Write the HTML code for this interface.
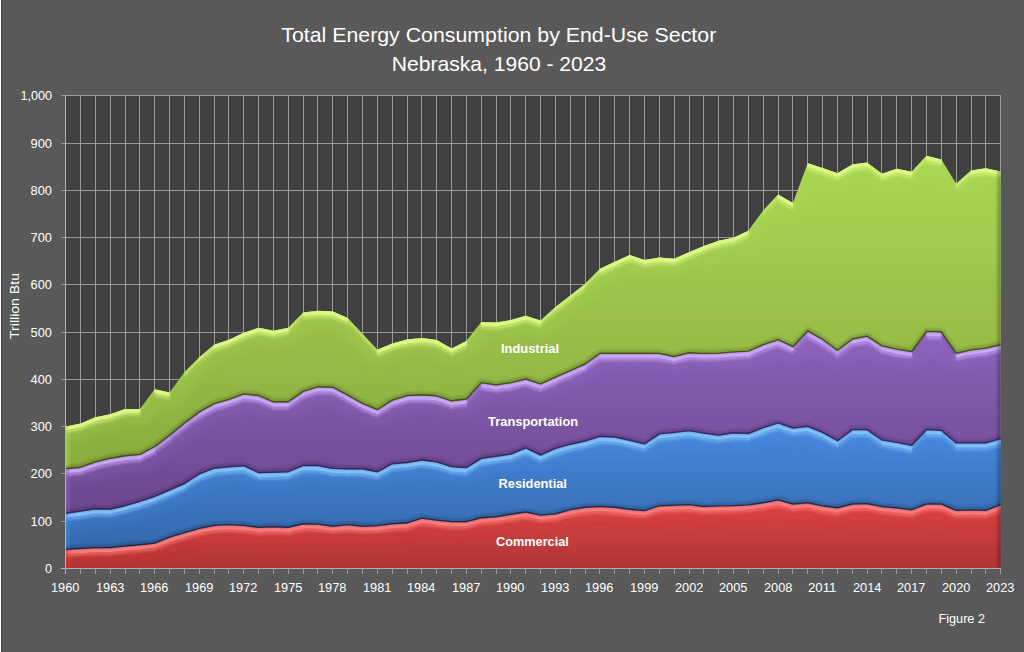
<!DOCTYPE html>
<html><head><meta charset="utf-8"><title>Total Energy Consumption by End-Use Sector</title>
<style>html,body{margin:0;padding:0;background:#595959;}body{width:1024px;height:652px;overflow:hidden;position:relative;font-family:"Liberation Sans",sans-serif;}svg{display:block;position:absolute;left:0;top:0;}text{font-family:"Liberation Sans",sans-serif;fill:#fff;}</style>
</head><body>
<svg width="1024" height="652" viewBox="0 0 1024 652">
<defs>
<linearGradient id="g_green" gradientUnits="userSpaceOnUse" x1="0" y1="155.8" x2="0" y2="469.3"><stop offset="0" stop-color="#abd653"/><stop offset="1" stop-color="#8aac3f"/></linearGradient>
<clipPath id="c_green"><polygon points="65.7,426.5 80.54,423.5 95.38,417.2 110.22,414.3 125.06,409.1 139.91,409.1 154.75,389.2 169.59,392.5 184.43,372.2 199.27,357.3 214.11,344.8 228.95,339.7 243.79,332.8 258.63,327.8 273.47,330.7 288.31,327.8 303.16,312.5 318,310.7 332.84,311.6 347.68,317.9 362.52,333.7 377.36,349.7 392.2,343.4 407.04,339.6 421.88,338 436.72,340 451.57,348.4 466.41,340.9 481.25,322 496.09,322.4 510.93,320.1 525.77,315.7 540.61,320.5 555.45,306.9 570.29,295.5 585.13,283.8 599.98,268.8 614.82,261.8 629.66,254.9 644.5,259.9 659.34,257.6 674.18,258.7 689.02,252.2 703.86,246.1 718.7,240.8 733.54,237.7 748.39,230.8 763.23,210.6 778.07,194.5 792.91,202.9 807.75,163.3 822.59,167.9 837.43,173.3 852.27,164.5 867.11,162.4 881.96,173.7 896.8,168.7 911.64,171.7 926.48,155.8 941.32,159.5 956.16,183.8 971,170.5 985.84,168.3 1000.68,171.5 1000.68,568.5 65.7,568.5"/></clipPath>
<linearGradient id="g_purple" gradientUnits="userSpaceOnUse" x1="0" y1="331.4" x2="0" y2="513.8"><stop offset="0" stop-color="#8b62ba"/><stop offset="1" stop-color="#6a468c"/></linearGradient>
<clipPath id="c_purple"><polygon points="65.7,469.3 80.54,467.8 95.38,462.5 110.22,458.8 125.06,456.3 139.91,455 154.75,447.1 169.59,435.8 184.43,423.6 199.27,412.5 214.11,404.2 228.95,399.9 243.79,394.5 258.63,396.1 273.47,402.4 288.31,402.4 303.16,392 318,387.3 332.84,387.8 347.68,395.7 362.52,403.9 377.36,410.2 392.2,400.8 407.04,396.1 421.88,395.4 436.72,396.4 451.57,401.4 466.41,399.6 481.25,383.2 496.09,385.5 510.93,383.2 525.77,379.6 540.61,384.5 555.45,377.7 570.29,371.3 585.13,364.6 599.98,353.9 614.82,353.9 629.66,353.9 644.5,353.9 659.34,354 674.18,357.1 689.02,353.3 703.86,354 718.7,353.7 733.54,352.5 748.39,351.7 763.23,345.2 778.07,340.3 792.91,347.1 807.75,331.4 822.59,339.9 837.43,350.9 852.27,339.6 867.11,336.7 881.96,346.5 896.8,349.7 911.64,352.1 926.48,332 941.32,332.4 956.16,353.8 971,350.5 985.84,348.7 1000.68,345.2 1000.68,568.5 65.7,568.5"/></clipPath>
<linearGradient id="g_blue" gradientUnits="userSpaceOnUse" x1="0" y1="423.5" x2="0" y2="549.9"><stop offset="0" stop-color="#4688dc"/><stop offset="1" stop-color="#3468ac"/></linearGradient>
<clipPath id="c_blue"><polygon points="65.7,513.8 80.54,511.7 95.38,509.4 110.22,509.7 125.06,506.3 139.91,501.9 154.75,496.9 169.59,490.6 184.43,484.1 199.27,474.5 214.11,468.8 228.95,467.3 243.79,466.3 258.63,473.2 273.47,472.8 288.31,472.3 303.16,466 318,466.1 332.84,469 347.68,469.4 362.52,469.4 377.36,472.4 392.2,464.3 407.04,463.1 421.88,460.6 436.72,462.5 451.57,467.2 466.41,468.2 481.25,459 496.09,456.8 510.93,454.6 525.77,448.4 540.61,455.6 555.45,449 570.29,444.8 585.13,441.6 599.98,437 614.82,437.6 629.66,440.8 644.5,444.5 659.34,434.5 674.18,433 689.02,431.2 703.86,433.7 718.7,435.7 733.54,433.4 748.39,434.1 763.23,428.2 778.07,423.5 792.91,428.6 807.75,427 822.59,432.9 837.43,441.3 852.27,430.2 867.11,430.2 881.96,440.5 896.8,443 911.64,445.9 926.48,430.2 941.32,430.8 956.16,443.4 971,443.4 985.84,443.4 1000.68,439.2 1000.68,568.5 65.7,568.5"/></clipPath>
<linearGradient id="g_red" gradientUnits="userSpaceOnUse" x1="0" y1="500.5" x2="0" y2="568.5"><stop offset="0" stop-color="#dc4646"/><stop offset="1" stop-color="#b03434"/></linearGradient>
<clipPath id="c_red"><polygon points="65.7,549.9 80.54,549.1 95.38,548.2 110.22,548.2 125.06,546.6 139.91,545.3 154.75,543.7 169.59,537.7 184.43,533.2 199.27,528.9 214.11,526 228.95,525.2 243.79,526 258.63,527.9 273.47,527.3 288.31,527.9 303.16,524.4 318,524.7 332.84,526.8 347.68,525.2 362.52,526.8 377.36,526.2 392.2,524.3 407.04,523.4 421.88,518.7 436.72,520.7 451.57,522.2 466.41,522.2 481.25,518.3 496.09,517.3 510.93,514.9 525.77,512.6 540.61,515.7 555.45,514.5 570.29,510.2 585.13,507.8 599.98,507 614.82,507.9 629.66,509.9 644.5,511.2 659.34,506.3 674.18,505.8 689.02,505.2 703.86,507.1 718.7,506.5 733.54,506.2 748.39,505.5 763.23,503.3 778.07,500.5 792.91,504.6 807.75,503.3 822.59,506.5 837.43,508.4 852.27,504.6 867.11,504.2 881.96,507.1 896.8,508.5 911.64,510.3 926.48,504.6 941.32,504.6 956.16,510.9 971,510.5 985.84,510.9 1000.68,505.2 1000.68,568.5 65.7,568.5"/></clipPath>
<filter id="blur1" filterUnits="userSpaceOnUse" x="40" y="80" width="990" height="510"><feGaussianBlur stdDeviation="1.0"/></filter>
<filter id="blur3" filterUnits="userSpaceOnUse" x="40" y="80" width="990" height="510"><feGaussianBlur stdDeviation="0.45"/></filter>
<filter id="blur2" filterUnits="userSpaceOnUse" x="40" y="80" width="990" height="510"><feGaussianBlur stdDeviation="5"/></filter>
</defs>
<rect x="0" y="0" width="1024" height="652" fill="#595959"/>
<rect x="0" y="0" width="1" height="652" fill="#ffffff"/>
<rect x="1" y="0" width="1" height="652" fill="#4b4b4b"/>
<rect x="2" y="0" width="1" height="652" fill="#545454"/>
<rect x="65" y="95" width="936" height="474" fill="#404040"/>
<path d="M65.5 95V574M80.5 95V574M95.5 95V574M110.5 95V574M125.5 95V574M139.5 95V574M154.5 95V574M169.5 95V574M184.5 95V574M199.5 95V574M214.5 95V574M228.5 95V574M243.5 95V574M258.5 95V574M273.5 95V574M288.5 95V574M303.5 95V574M317.5 95V574M332.5 95V574M347.5 95V574M362.5 95V574M377.5 95V574M392.5 95V574M407.5 95V574M421.5 95V574M436.5 95V574M451.5 95V574M466.5 95V574M481.5 95V574M496.5 95V574M510.5 95V574M525.5 95V574M540.5 95V574M555.5 95V574M570.5 95V574M585.5 95V574M599.5 95V574M614.5 95V574M629.5 95V574M644.5 95V574M659.5 95V574M674.5 95V574M689.5 95V574M703.5 95V574M718.5 95V574M733.5 95V574M748.5 95V574M763.5 95V574M778.5 95V574M792.5 95V574M807.5 95V574M822.5 95V574M837.5 95V574M852.5 95V574M867.5 95V574M881.5 95V574M896.5 95V574M911.5 95V574M926.5 95V574M941.5 95V574M956.5 95V574M971.5 95V574M985.5 95V574M1000.5 95V574M61 568.5H1001M61 521.5H1001M61 473.5H1001M61 426.5H1001M61 379.5H1001M61 332.5H1001M61 284.5H1001M61 237.5H1001M61 190.5H1001M61 143.5H1001M61 95.5H1001" stroke="#9a9a9a" stroke-width="1" fill="none"/>
<g clip-path="url(#c_green)">
<rect x="64.5" y="95.5" width="938" height="473" fill="url(#g_green)"/>
<polyline points="65.7,426.5 80.54,423.5 95.38,417.2 110.22,414.3 125.06,409.1 139.91,409.1 154.75,389.2 169.59,392.5 184.43,372.2 199.27,357.3 214.11,344.8 228.95,339.7 243.79,332.8 258.63,327.8 273.47,330.7 288.31,327.8 303.16,312.5 318,310.7 332.84,311.6 347.68,317.9 362.52,333.7 377.36,349.7 392.2,343.4 407.04,339.6 421.88,338 436.72,340 451.57,348.4 466.41,340.9 481.25,322 496.09,322.4 510.93,320.1 525.77,315.7 540.61,320.5 555.45,306.9 570.29,295.5 585.13,283.8 599.98,268.8 614.82,261.8 629.66,254.9 644.5,259.9 659.34,257.6 674.18,258.7 689.02,252.2 703.86,246.1 718.7,240.8 733.54,237.7 748.39,230.8 763.23,210.6 778.07,194.5 792.91,202.9 807.75,163.3 822.59,167.9 837.43,173.3 852.27,164.5 867.11,162.4 881.96,173.7 896.8,168.7 911.64,171.7 926.48,155.8 941.32,159.5 956.16,183.8 971,170.5 985.84,168.3 1000.68,171.5" fill="none" stroke="#b4e052" stroke-width="30" stroke-linejoin="round" stroke-opacity="0.18" filter="url(#blur2)"/>
<g fill="#dcfa84" filter="url(#blur1)"><path d="M65.4 425.5L80.84 422.5L80.84 430.5L65.4 433.5Z" fill-opacity="0.50"/><path d="M80.24 422.5L95.68 416.2L95.68 424.2L80.24 430.5Z" fill-opacity="0.50"/><path d="M95.08 416.2L110.52 413.3L110.52 421.3L95.08 424.2Z" fill-opacity="0.50"/><path d="M109.92 413.3L125.36 408.1L125.36 416.1L109.92 421.3Z" fill-opacity="0.50"/><path d="M124.76 408.1L140.21 408.1L140.21 416.1L124.76 416.1Z" fill-opacity="0.50"/><path d="M139.6 408.1L155.05 388.2L155.05 396.2L139.6 416.1Z" fill-opacity="0.03"/><path d="M154.45 388.2L169.89 391.5L169.89 399.5L154.45 396.2Z" fill-opacity="0.50"/><path d="M169.29 391.5L184.73 371.2L184.73 379.2L169.29 399.5Z" fill-opacity="0.02"/><path d="M184.13 371.2L199.57 356.3L199.57 364.3L184.13 379.2Z" fill-opacity="0.20"/><path d="M198.97 356.3L214.41 343.8L214.41 351.8L198.97 364.3Z" fill-opacity="0.30"/><path d="M213.81 343.8L229.25 338.7L229.25 346.7L213.81 351.8Z" fill-opacity="0.50"/><path d="M228.65 338.7L244.09 331.8L244.09 339.8L228.65 346.7Z" fill-opacity="0.50"/><path d="M243.49 331.8L258.93 326.8L258.93 334.8L243.49 339.8Z" fill-opacity="0.50"/><path d="M258.33 326.8L273.77 329.7L273.77 337.7L258.33 334.8Z" fill-opacity="0.50"/><path d="M273.17 329.7L288.62 326.8L288.62 334.8L273.17 337.7Z" fill-opacity="0.50"/><path d="M288.01 326.8L303.46 311.5L303.46 319.5L288.01 334.8Z" fill-opacity="0.18"/><path d="M302.86 311.5L318.3 309.7L318.3 317.7L302.86 319.5Z" fill-opacity="0.50"/><path d="M317.7 309.7L333.14 310.6L333.14 318.6L317.7 317.7Z" fill-opacity="0.50"/><path d="M332.54 310.6L347.98 316.9L347.98 324.9L332.54 318.6Z" fill-opacity="0.50"/><path d="M347.38 316.9L362.82 332.7L362.82 340.7L347.38 324.9Z" fill-opacity="0.16"/><path d="M362.22 332.7L377.66 348.7L377.66 356.7L362.22 340.7Z" fill-opacity="0.16"/><path d="M377.06 348.7L392.5 342.4L392.5 350.4L377.06 356.7Z" fill-opacity="0.50"/><path d="M391.9 342.4L407.34 338.6L407.34 346.6L391.9 350.4Z" fill-opacity="0.50"/><path d="M406.74 338.6L422.18 337L422.18 345L406.74 346.6Z" fill-opacity="0.50"/><path d="M421.58 337L437.02 339L437.02 347L421.58 345Z" fill-opacity="0.50"/><path d="M436.42 339L451.87 347.4L451.87 355.4L436.42 347Z" fill-opacity="0.50"/><path d="M451.27 347.4L466.71 339.9L466.71 347.9L451.27 355.4Z" fill-opacity="0.50"/><path d="M466.11 339.9L481.55 321L481.55 329L466.11 347.9Z" fill-opacity="0.06"/><path d="M480.95 321L496.39 321.4L496.39 329.4L480.95 329Z" fill-opacity="0.50"/><path d="M495.79 321.4L511.23 319.1L511.23 327.1L495.79 329.4Z" fill-opacity="0.50"/><path d="M510.63 319.1L526.07 314.7L526.07 322.7L510.63 327.1Z" fill-opacity="0.50"/><path d="M525.47 314.7L540.91 319.5L540.91 327.5L525.47 322.7Z" fill-opacity="0.50"/><path d="M540.31 319.5L555.75 305.9L555.75 313.9L540.31 327.5Z" fill-opacity="0.25"/><path d="M555.15 305.9L570.59 294.5L570.59 302.5L555.15 313.9Z" fill-opacity="0.35"/><path d="M569.99 294.5L585.43 282.8L585.43 290.8L569.99 302.5Z" fill-opacity="0.33"/><path d="M584.84 282.8L600.28 267.8L600.28 275.8L584.84 290.8Z" fill-opacity="0.19"/><path d="M599.68 267.8L615.12 260.8L615.12 268.8L599.68 275.8Z" fill-opacity="0.50"/><path d="M614.52 260.8L629.96 253.9L629.96 261.9L614.52 268.8Z" fill-opacity="0.50"/><path d="M629.36 253.9L644.8 258.9L644.8 266.9L629.36 261.9Z" fill-opacity="0.50"/><path d="M644.2 258.9L659.64 256.6L659.64 264.6L644.2 266.9Z" fill-opacity="0.50"/><path d="M659.04 256.6L674.48 257.7L674.48 265.7L659.04 264.6Z" fill-opacity="0.50"/><path d="M673.88 257.7L689.32 251.2L689.32 259.2L673.88 265.7Z" fill-opacity="0.50"/><path d="M688.72 251.2L704.16 245.1L704.16 253.1L688.72 259.2Z" fill-opacity="0.50"/><path d="M703.56 245.1L719 239.8L719 247.8L703.56 253.1Z" fill-opacity="0.50"/><path d="M718.4 239.8L733.84 236.7L733.84 244.7L718.4 247.8Z" fill-opacity="0.50"/><path d="M733.25 236.7L748.69 229.8L748.69 237.8L733.25 244.7Z" fill-opacity="0.50"/><path d="M748.09 229.8L763.53 209.6L763.53 217.6L748.09 237.8Z" fill-opacity="0.03"/><path d="M762.93 209.6L778.37 193.5L778.37 201.5L762.93 217.6Z" fill-opacity="0.15"/><path d="M777.77 193.5L793.21 201.9L793.21 209.9L777.77 201.5Z" fill-opacity="0.50"/><path d="M807.45 162.3L822.89 166.9L822.89 174.9L807.45 170.3Z" fill-opacity="0.50"/><path d="M822.29 166.9L837.73 172.3L837.73 180.3L822.29 174.9Z" fill-opacity="0.50"/><path d="M837.13 172.3L852.57 163.5L852.57 171.5L837.13 180.3Z" fill-opacity="0.49"/><path d="M851.97 163.5L867.41 161.4L867.41 169.4L851.97 171.5Z" fill-opacity="0.50"/><path d="M866.81 161.4L882.25 172.7L882.25 180.7L866.81 169.4Z" fill-opacity="0.35"/><path d="M881.66 172.7L897.1 167.7L897.1 175.7L881.66 180.7Z" fill-opacity="0.50"/><path d="M896.5 167.7L911.94 170.7L911.94 178.7L896.5 175.7Z" fill-opacity="0.50"/><path d="M911.34 170.7L926.78 154.8L926.78 162.8L911.34 178.7Z" fill-opacity="0.16"/><path d="M926.18 154.8L941.62 158.5L941.62 166.5L926.18 162.8Z" fill-opacity="0.50"/><path d="M955.86 182.8L971.3 169.5L971.3 177.5L955.86 190.8Z" fill-opacity="0.26"/><path d="M970.7 169.5L986.14 167.3L986.14 175.3L970.7 177.5Z" fill-opacity="0.50"/><path d="M985.54 167.3L1000.98 170.5L1000.98 178.5L985.54 175.3Z" fill-opacity="0.50"/></g>
<g fill="#dcfa84" filter="url(#blur3)"><path d="M65.4 425.5L80.84 422.5L80.84 427.3L65.4 430.3Z" fill-opacity="0.90"/><path d="M80.24 422.5L95.68 416.2L95.68 421L80.24 427.3Z" fill-opacity="0.90"/><path d="M95.08 416.2L110.52 413.3L110.52 418.1L95.08 421Z" fill-opacity="0.90"/><path d="M109.92 413.3L125.36 408.1L125.36 412.9L109.92 418.1Z" fill-opacity="0.90"/><path d="M124.76 408.1L140.21 408.1L140.21 412.9L124.76 412.9Z" fill-opacity="0.90"/><path d="M139.6 408.1L155.05 388.2L155.05 393L139.6 412.9Z" fill-opacity="0.06"/><path d="M154.45 388.2L169.89 391.5L169.89 396.3L154.45 393Z" fill-opacity="0.90"/><path d="M169.29 391.5L184.73 371.2L184.73 376L169.29 396.3Z" fill-opacity="0.04"/><path d="M184.13 371.2L199.57 356.3L199.57 361.1L184.13 376Z" fill-opacity="0.36"/><path d="M198.97 356.3L214.41 343.8L214.41 348.6L198.97 361.1Z" fill-opacity="0.54"/><path d="M213.81 343.8L229.25 338.7L229.25 343.5L213.81 348.6Z" fill-opacity="0.90"/><path d="M228.65 338.7L244.09 331.8L244.09 336.6L228.65 343.5Z" fill-opacity="0.90"/><path d="M243.49 331.8L258.93 326.8L258.93 331.6L243.49 336.6Z" fill-opacity="0.90"/><path d="M258.33 326.8L273.77 329.7L273.77 334.5L258.33 331.6Z" fill-opacity="0.90"/><path d="M273.17 329.7L288.62 326.8L288.62 331.6L273.17 334.5Z" fill-opacity="0.90"/><path d="M288.01 326.8L303.46 311.5L303.46 316.3L288.01 331.6Z" fill-opacity="0.33"/><path d="M302.86 311.5L318.3 309.7L318.3 314.5L302.86 316.3Z" fill-opacity="0.90"/><path d="M317.7 309.7L333.14 310.6L333.14 315.4L317.7 314.5Z" fill-opacity="0.90"/><path d="M332.54 310.6L347.98 316.9L347.98 321.7L332.54 315.4Z" fill-opacity="0.90"/><path d="M347.38 316.9L362.82 332.7L362.82 337.5L347.38 321.7Z" fill-opacity="0.30"/><path d="M362.22 332.7L377.66 348.7L377.66 353.5L362.22 337.5Z" fill-opacity="0.28"/><path d="M377.06 348.7L392.5 342.4L392.5 347.2L377.06 353.5Z" fill-opacity="0.90"/><path d="M391.9 342.4L407.34 338.6L407.34 343.4L391.9 347.2Z" fill-opacity="0.90"/><path d="M406.74 338.6L422.18 337L422.18 341.8L406.74 343.4Z" fill-opacity="0.90"/><path d="M421.58 337L437.02 339L437.02 343.8L421.58 341.8Z" fill-opacity="0.90"/><path d="M436.42 339L451.87 347.4L451.87 352.2L436.42 343.8Z" fill-opacity="0.90"/><path d="M451.27 347.4L466.71 339.9L466.71 344.7L451.27 352.2Z" fill-opacity="0.90"/><path d="M466.11 339.9L481.55 321L481.55 325.8L466.11 344.7Z" fill-opacity="0.11"/><path d="M480.95 321L496.39 321.4L496.39 326.2L480.95 325.8Z" fill-opacity="0.90"/><path d="M495.79 321.4L511.23 319.1L511.23 323.9L495.79 326.2Z" fill-opacity="0.90"/><path d="M510.63 319.1L526.07 314.7L526.07 319.5L510.63 323.9Z" fill-opacity="0.90"/><path d="M525.47 314.7L540.91 319.5L540.91 324.3L525.47 319.5Z" fill-opacity="0.90"/><path d="M540.31 319.5L555.75 305.9L555.75 310.7L540.31 324.3Z" fill-opacity="0.45"/><path d="M555.15 305.9L570.59 294.5L570.59 299.3L555.15 310.7Z" fill-opacity="0.63"/><path d="M569.99 294.5L585.43 282.8L585.43 287.6L569.99 299.3Z" fill-opacity="0.60"/><path d="M584.84 282.8L600.28 267.8L600.28 272.6L584.84 287.6Z" fill-opacity="0.35"/><path d="M599.68 267.8L615.12 260.8L615.12 265.6L599.68 272.6Z" fill-opacity="0.90"/><path d="M614.52 260.8L629.96 253.9L629.96 258.7L614.52 265.6Z" fill-opacity="0.90"/><path d="M629.36 253.9L644.8 258.9L644.8 263.7L629.36 258.7Z" fill-opacity="0.90"/><path d="M644.2 258.9L659.64 256.6L659.64 261.4L644.2 263.7Z" fill-opacity="0.90"/><path d="M659.04 256.6L674.48 257.7L674.48 262.5L659.04 261.4Z" fill-opacity="0.90"/><path d="M673.88 257.7L689.32 251.2L689.32 256L673.88 262.5Z" fill-opacity="0.90"/><path d="M688.72 251.2L704.16 245.1L704.16 249.9L688.72 256Z" fill-opacity="0.90"/><path d="M703.56 245.1L719 239.8L719 244.6L703.56 249.9Z" fill-opacity="0.90"/><path d="M718.4 239.8L733.84 236.7L733.84 241.5L718.4 244.6Z" fill-opacity="0.90"/><path d="M733.25 236.7L748.69 229.8L748.69 234.6L733.25 241.5Z" fill-opacity="0.90"/><path d="M748.09 229.8L763.53 209.6L763.53 214.4L748.09 234.6Z" fill-opacity="0.05"/><path d="M762.93 209.6L778.37 193.5L778.37 198.3L762.93 214.4Z" fill-opacity="0.28"/><path d="M777.77 193.5L793.21 201.9L793.21 206.7L777.77 198.3Z" fill-opacity="0.90"/><path d="M807.45 162.3L822.89 166.9L822.89 171.7L807.45 167.1Z" fill-opacity="0.90"/><path d="M822.29 166.9L837.73 172.3L837.73 177.1L822.29 171.7Z" fill-opacity="0.90"/><path d="M837.13 172.3L852.57 163.5L852.57 168.3L837.13 177.1Z" fill-opacity="0.88"/><path d="M851.97 163.5L867.41 161.4L867.41 166.2L851.97 168.3Z" fill-opacity="0.90"/><path d="M866.81 161.4L882.25 172.7L882.25 177.5L866.81 166.2Z" fill-opacity="0.64"/><path d="M881.66 172.7L897.1 167.7L897.1 172.5L881.66 177.5Z" fill-opacity="0.90"/><path d="M896.5 167.7L911.94 170.7L911.94 175.5L896.5 172.5Z" fill-opacity="0.90"/><path d="M911.34 170.7L926.78 154.8L926.78 159.6L911.34 175.5Z" fill-opacity="0.29"/><path d="M926.18 154.8L941.62 158.5L941.62 163.3L926.18 159.6Z" fill-opacity="0.90"/><path d="M955.86 182.8L971.3 169.5L971.3 174.3L955.86 187.6Z" fill-opacity="0.47"/><path d="M970.7 169.5L986.14 167.3L986.14 172.1L970.7 174.3Z" fill-opacity="0.90"/><path d="M985.54 167.3L1000.98 170.5L1000.98 175.3L985.54 172.1Z" fill-opacity="0.90"/></g>
<path d="M66 95.5V568.5" stroke="#b4e052" stroke-width="7" stroke-opacity="0.45" filter="url(#blur1)"/>
<path d="M1000 95.5V568.5" stroke="#000" stroke-width="6" stroke-opacity="0.22" filter="url(#blur1)"/>
</g>
<g clip-path="url(#c_purple)">
<rect x="64.5" y="95.5" width="938" height="473" fill="url(#g_purple)"/>
<polyline points="65.7,469.3 80.54,467.8 95.38,462.5 110.22,458.8 125.06,456.3 139.91,455 154.75,447.1 169.59,435.8 184.43,423.6 199.27,412.5 214.11,404.2 228.95,399.9 243.79,394.5 258.63,396.1 273.47,402.4 288.31,402.4 303.16,392 318,387.3 332.84,387.8 347.68,395.7 362.52,403.9 377.36,410.2 392.2,400.8 407.04,396.1 421.88,395.4 436.72,396.4 451.57,401.4 466.41,399.6 481.25,383.2 496.09,385.5 510.93,383.2 525.77,379.6 540.61,384.5 555.45,377.7 570.29,371.3 585.13,364.6 599.98,353.9 614.82,353.9 629.66,353.9 644.5,353.9 659.34,354 674.18,357.1 689.02,353.3 703.86,354 718.7,353.7 733.54,352.5 748.39,351.7 763.23,345.2 778.07,340.3 792.91,347.1 807.75,331.4 822.59,339.9 837.43,350.9 852.27,339.6 867.11,336.7 881.96,346.5 896.8,349.7 911.64,352.1 926.48,332 941.32,332.4 956.16,353.8 971,350.5 985.84,348.7 1000.68,345.2" fill="none" stroke="#9a6cd0" stroke-width="30" stroke-linejoin="round" stroke-opacity="0.18" filter="url(#blur2)"/>
<g fill="#d2aeff" filter="url(#blur1)"><path d="M65.4 468.3L80.84 466.8L80.84 474.8L65.4 476.3Z" fill-opacity="0.50"/><path d="M80.24 466.8L95.68 461.5L95.68 469.5L80.24 474.8Z" fill-opacity="0.50"/><path d="M95.08 461.5L110.52 457.8L110.52 465.8L95.08 469.5Z" fill-opacity="0.50"/><path d="M109.92 457.8L125.36 455.3L125.36 463.3L109.92 465.8Z" fill-opacity="0.50"/><path d="M124.76 455.3L140.21 454L140.21 462L124.76 463.3Z" fill-opacity="0.50"/><path d="M139.6 454L155.05 446.1L155.05 454.1L139.6 462Z" fill-opacity="0.50"/><path d="M154.45 446.1L169.89 434.8L169.89 442.8L154.45 454.1Z" fill-opacity="0.35"/><path d="M169.29 434.8L184.73 422.6L184.73 430.6L169.29 442.8Z" fill-opacity="0.31"/><path d="M184.13 422.6L199.57 411.5L199.57 419.5L184.13 430.6Z" fill-opacity="0.36"/><path d="M198.97 411.5L214.41 403.2L214.41 411.2L198.97 419.5Z" fill-opacity="0.50"/><path d="M213.81 403.2L229.25 398.9L229.25 406.9L213.81 411.2Z" fill-opacity="0.50"/><path d="M228.65 398.9L244.09 393.5L244.09 401.5L228.65 406.9Z" fill-opacity="0.50"/><path d="M243.49 393.5L258.93 395.1L258.93 403.1L243.49 401.5Z" fill-opacity="0.50"/><path d="M258.33 395.1L273.77 401.4L273.77 409.4L258.33 403.1Z" fill-opacity="0.50"/><path d="M273.17 401.4L288.62 401.4L288.62 409.4L273.17 409.4Z" fill-opacity="0.50"/><path d="M288.01 401.4L303.46 391L303.46 399L288.01 409.4Z" fill-opacity="0.40"/><path d="M302.86 391L318.3 386.3L318.3 394.3L302.86 399Z" fill-opacity="0.50"/><path d="M317.7 386.3L333.14 386.8L333.14 394.8L317.7 394.3Z" fill-opacity="0.50"/><path d="M332.54 386.8L347.98 394.7L347.98 402.7L332.54 394.8Z" fill-opacity="0.50"/><path d="M347.38 394.7L362.82 402.9L362.82 410.9L347.38 402.7Z" fill-opacity="0.50"/><path d="M362.22 402.9L377.66 409.2L377.66 417.2L362.22 410.9Z" fill-opacity="0.50"/><path d="M377.06 409.2L392.5 399.8L392.5 407.8L377.06 417.2Z" fill-opacity="0.45"/><path d="M391.9 399.8L407.34 395.1L407.34 403.1L391.9 407.8Z" fill-opacity="0.50"/><path d="M406.74 395.1L422.18 394.4L422.18 402.4L406.74 403.1Z" fill-opacity="0.50"/><path d="M421.58 394.4L437.02 395.4L437.02 403.4L421.58 402.4Z" fill-opacity="0.50"/><path d="M436.42 395.4L451.87 400.4L451.87 408.4L436.42 403.4Z" fill-opacity="0.50"/><path d="M451.27 400.4L466.71 398.6L466.71 406.6L451.27 408.4Z" fill-opacity="0.50"/><path d="M466.11 398.6L481.55 382.2L481.55 390.2L466.11 406.6Z" fill-opacity="0.14"/><path d="M480.95 382.2L496.39 384.5L496.39 392.5L480.95 390.2Z" fill-opacity="0.50"/><path d="M495.79 384.5L511.23 382.2L511.23 390.2L495.79 392.5Z" fill-opacity="0.50"/><path d="M510.63 382.2L526.07 378.6L526.07 386.6L510.63 390.2Z" fill-opacity="0.50"/><path d="M525.47 378.6L540.91 383.5L540.91 391.5L525.47 386.6Z" fill-opacity="0.50"/><path d="M540.31 383.5L555.75 376.7L555.75 384.7L540.31 391.5Z" fill-opacity="0.50"/><path d="M555.15 376.7L570.59 370.3L570.59 378.3L555.15 384.7Z" fill-opacity="0.50"/><path d="M569.99 370.3L585.43 363.6L585.43 371.6L569.99 378.3Z" fill-opacity="0.50"/><path d="M584.84 363.6L600.28 352.9L600.28 360.9L584.84 371.6Z" fill-opacity="0.38"/><path d="M599.68 352.9L615.12 352.9L615.12 360.9L599.68 360.9Z" fill-opacity="0.50"/><path d="M614.52 352.9L629.96 352.9L629.96 360.9L614.52 360.9Z" fill-opacity="0.50"/><path d="M629.36 352.9L644.8 352.9L644.8 360.9L629.36 360.9Z" fill-opacity="0.50"/><path d="M644.2 352.9L659.64 353L659.64 361L644.2 360.9Z" fill-opacity="0.50"/><path d="M659.04 353L674.48 356.1L674.48 364.1L659.04 361Z" fill-opacity="0.50"/><path d="M673.88 356.1L689.32 352.3L689.32 360.3L673.88 364.1Z" fill-opacity="0.50"/><path d="M688.72 352.3L704.16 353L704.16 361L688.72 360.3Z" fill-opacity="0.50"/><path d="M703.56 353L719 352.7L719 360.7L703.56 361Z" fill-opacity="0.50"/><path d="M718.4 352.7L733.84 351.5L733.84 359.5L718.4 360.7Z" fill-opacity="0.50"/><path d="M733.25 351.5L748.69 350.7L748.69 358.7L733.25 359.5Z" fill-opacity="0.50"/><path d="M748.09 350.7L763.53 344.2L763.53 352.2L748.09 358.7Z" fill-opacity="0.50"/><path d="M762.93 344.2L778.37 339.3L778.37 347.3L762.93 352.2Z" fill-opacity="0.50"/><path d="M777.77 339.3L793.21 346.1L793.21 354.1L777.77 347.3Z" fill-opacity="0.50"/><path d="M792.61 346.1L808.05 330.4L808.05 338.4L792.61 354.1Z" fill-opacity="0.17"/><path d="M807.45 330.4L822.89 338.9L822.89 346.9L807.45 338.4Z" fill-opacity="0.50"/><path d="M822.29 338.9L837.73 349.9L837.73 357.9L822.29 346.9Z" fill-opacity="0.37"/><path d="M837.13 349.9L852.57 338.6L852.57 346.6L837.13 357.9Z" fill-opacity="0.35"/><path d="M851.97 338.6L867.41 335.7L867.41 343.7L851.97 346.6Z" fill-opacity="0.50"/><path d="M866.81 335.7L882.25 345.5L882.25 353.5L866.81 343.7Z" fill-opacity="0.43"/><path d="M881.66 345.5L897.1 348.7L897.1 356.7L881.66 353.5Z" fill-opacity="0.50"/><path d="M896.5 348.7L911.94 351.1L911.94 359.1L896.5 356.7Z" fill-opacity="0.50"/><path d="M911.34 351.1L926.78 331L926.78 339L911.34 359.1Z" fill-opacity="0.03"/><path d="M926.18 331L941.62 331.4L941.62 339.4L926.18 339Z" fill-opacity="0.50"/><path d="M955.86 352.8L971.3 349.5L971.3 357.5L955.86 360.8Z" fill-opacity="0.50"/><path d="M970.7 349.5L986.14 347.7L986.14 355.7L970.7 357.5Z" fill-opacity="0.50"/><path d="M985.54 347.7L1000.98 344.2L1000.98 352.2L985.54 355.7Z" fill-opacity="0.50"/></g>
<g fill="#d2aeff" filter="url(#blur3)"><path d="M65.4 468.3L80.84 466.8L80.84 471.6L65.4 473.1Z" fill-opacity="0.90"/><path d="M80.24 466.8L95.68 461.5L95.68 466.3L80.24 471.6Z" fill-opacity="0.90"/><path d="M95.08 461.5L110.52 457.8L110.52 462.6L95.08 466.3Z" fill-opacity="0.90"/><path d="M109.92 457.8L125.36 455.3L125.36 460.1L109.92 462.6Z" fill-opacity="0.90"/><path d="M124.76 455.3L140.21 454L140.21 458.8L124.76 460.1Z" fill-opacity="0.90"/><path d="M139.6 454L155.05 446.1L155.05 450.9L139.6 458.8Z" fill-opacity="0.90"/><path d="M154.45 446.1L169.89 434.8L169.89 439.6L154.45 450.9Z" fill-opacity="0.64"/><path d="M169.29 434.8L184.73 422.6L184.73 427.4L169.29 439.6Z" fill-opacity="0.56"/><path d="M184.13 422.6L199.57 411.5L199.57 416.3L184.13 427.4Z" fill-opacity="0.66"/><path d="M198.97 411.5L214.41 403.2L214.41 408L198.97 416.3Z" fill-opacity="0.90"/><path d="M213.81 403.2L229.25 398.9L229.25 403.7L213.81 408Z" fill-opacity="0.90"/><path d="M228.65 398.9L244.09 393.5L244.09 398.3L228.65 403.7Z" fill-opacity="0.90"/><path d="M243.49 393.5L258.93 395.1L258.93 399.9L243.49 398.3Z" fill-opacity="0.90"/><path d="M258.33 395.1L273.77 401.4L273.77 406.2L258.33 399.9Z" fill-opacity="0.90"/><path d="M273.17 401.4L288.62 401.4L288.62 406.2L273.17 406.2Z" fill-opacity="0.90"/><path d="M288.01 401.4L303.46 391L303.46 395.8L288.01 406.2Z" fill-opacity="0.72"/><path d="M302.86 391L318.3 386.3L318.3 391.1L302.86 395.8Z" fill-opacity="0.90"/><path d="M317.7 386.3L333.14 386.8L333.14 391.6L317.7 391.1Z" fill-opacity="0.90"/><path d="M332.54 386.8L347.98 394.7L347.98 399.5L332.54 391.6Z" fill-opacity="0.90"/><path d="M347.38 394.7L362.82 402.9L362.82 407.7L347.38 399.5Z" fill-opacity="0.90"/><path d="M362.22 402.9L377.66 409.2L377.66 414L362.22 407.7Z" fill-opacity="0.90"/><path d="M377.06 409.2L392.5 399.8L392.5 404.6L377.06 414Z" fill-opacity="0.82"/><path d="M391.9 399.8L407.34 395.1L407.34 399.9L391.9 404.6Z" fill-opacity="0.90"/><path d="M406.74 395.1L422.18 394.4L422.18 399.2L406.74 399.9Z" fill-opacity="0.90"/><path d="M421.58 394.4L437.02 395.4L437.02 400.2L421.58 399.2Z" fill-opacity="0.90"/><path d="M436.42 395.4L451.87 400.4L451.87 405.2L436.42 400.2Z" fill-opacity="0.90"/><path d="M451.27 400.4L466.71 398.6L466.71 403.4L451.27 405.2Z" fill-opacity="0.90"/><path d="M466.11 398.6L481.55 382.2L481.55 387L466.11 403.4Z" fill-opacity="0.26"/><path d="M480.95 382.2L496.39 384.5L496.39 389.3L480.95 387Z" fill-opacity="0.90"/><path d="M495.79 384.5L511.23 382.2L511.23 387L495.79 389.3Z" fill-opacity="0.90"/><path d="M510.63 382.2L526.07 378.6L526.07 383.4L510.63 387Z" fill-opacity="0.90"/><path d="M525.47 378.6L540.91 383.5L540.91 388.3L525.47 383.4Z" fill-opacity="0.90"/><path d="M540.31 383.5L555.75 376.7L555.75 381.5L540.31 388.3Z" fill-opacity="0.90"/><path d="M555.15 376.7L570.59 370.3L570.59 375.1L555.15 381.5Z" fill-opacity="0.90"/><path d="M569.99 370.3L585.43 363.6L585.43 368.4L569.99 375.1Z" fill-opacity="0.90"/><path d="M584.84 363.6L600.28 352.9L600.28 357.7L584.84 368.4Z" fill-opacity="0.69"/><path d="M599.68 352.9L615.12 352.9L615.12 357.7L599.68 357.7Z" fill-opacity="0.90"/><path d="M614.52 352.9L629.96 352.9L629.96 357.7L614.52 357.7Z" fill-opacity="0.90"/><path d="M629.36 352.9L644.8 352.9L644.8 357.7L629.36 357.7Z" fill-opacity="0.90"/><path d="M644.2 352.9L659.64 353L659.64 357.8L644.2 357.7Z" fill-opacity="0.90"/><path d="M659.04 353L674.48 356.1L674.48 360.9L659.04 357.8Z" fill-opacity="0.90"/><path d="M673.88 356.1L689.32 352.3L689.32 357.1L673.88 360.9Z" fill-opacity="0.90"/><path d="M688.72 352.3L704.16 353L704.16 357.8L688.72 357.1Z" fill-opacity="0.90"/><path d="M703.56 353L719 352.7L719 357.5L703.56 357.8Z" fill-opacity="0.90"/><path d="M718.4 352.7L733.84 351.5L733.84 356.3L718.4 357.5Z" fill-opacity="0.90"/><path d="M733.25 351.5L748.69 350.7L748.69 355.5L733.25 356.3Z" fill-opacity="0.90"/><path d="M748.09 350.7L763.53 344.2L763.53 349L748.09 355.5Z" fill-opacity="0.90"/><path d="M762.93 344.2L778.37 339.3L778.37 344.1L762.93 349Z" fill-opacity="0.90"/><path d="M777.77 339.3L793.21 346.1L793.21 350.9L777.77 344.1Z" fill-opacity="0.90"/><path d="M792.61 346.1L808.05 330.4L808.05 335.2L792.61 350.9Z" fill-opacity="0.30"/><path d="M807.45 330.4L822.89 338.9L822.89 343.7L807.45 335.2Z" fill-opacity="0.90"/><path d="M822.29 338.9L837.73 349.9L837.73 354.7L822.29 343.7Z" fill-opacity="0.66"/><path d="M837.13 349.9L852.57 338.6L852.57 343.4L837.13 354.7Z" fill-opacity="0.64"/><path d="M851.97 338.6L867.41 335.7L867.41 340.5L851.97 343.4Z" fill-opacity="0.90"/><path d="M866.81 335.7L882.25 345.5L882.25 350.3L866.81 340.5Z" fill-opacity="0.78"/><path d="M881.66 345.5L897.1 348.7L897.1 353.5L881.66 350.3Z" fill-opacity="0.90"/><path d="M896.5 348.7L911.94 351.1L911.94 355.9L896.5 353.5Z" fill-opacity="0.90"/><path d="M911.34 351.1L926.78 331L926.78 335.8L911.34 355.9Z" fill-opacity="0.05"/><path d="M926.18 331L941.62 331.4L941.62 336.2L926.18 335.8Z" fill-opacity="0.90"/><path d="M955.86 352.8L971.3 349.5L971.3 354.3L955.86 357.6Z" fill-opacity="0.90"/><path d="M970.7 349.5L986.14 347.7L986.14 352.5L970.7 354.3Z" fill-opacity="0.90"/><path d="M985.54 347.7L1000.98 344.2L1000.98 349L985.54 352.5Z" fill-opacity="0.90"/></g>
<path d="M66 95.5V568.5" stroke="#9a6cd0" stroke-width="7" stroke-opacity="0.45" filter="url(#blur1)"/>
<path d="M1000 95.5V568.5" stroke="#000" stroke-width="6" stroke-opacity="0.22" filter="url(#blur1)"/>
</g>
<polyline points="65.7,469.3 80.54,467.8 95.38,462.5 110.22,458.8 125.06,456.3 139.91,455 154.75,447.1 169.59,435.8 184.43,423.6 199.27,412.5 214.11,404.2 228.95,399.9 243.79,394.5 258.63,396.1 273.47,402.4 288.31,402.4 303.16,392 318,387.3 332.84,387.8 347.68,395.7 362.52,403.9 377.36,410.2 392.2,400.8 407.04,396.1 421.88,395.4 436.72,396.4 451.57,401.4 466.41,399.6 481.25,383.2 496.09,385.5 510.93,383.2 525.77,379.6 540.61,384.5 555.45,377.7 570.29,371.3 585.13,364.6 599.98,353.9 614.82,353.9 629.66,353.9 644.5,353.9 659.34,354 674.18,357.1 689.02,353.3 703.86,354 718.7,353.7 733.54,352.5 748.39,351.7 763.23,345.2 778.07,340.3 792.91,347.1 807.75,331.4 822.59,339.9 837.43,350.9 852.27,339.6 867.11,336.7 881.96,346.5 896.8,349.7 911.64,352.1 926.48,332 941.32,332.4 956.16,353.8 971,350.5 985.84,348.7 1000.68,345.2" fill="none" stroke="#000" stroke-width="5" stroke-linejoin="round" stroke-opacity="0.16" transform="translate(0,-1.5)" filter="url(#blur1)"/>
<polyline points="65.7,469.3 80.54,467.8 95.38,462.5 110.22,458.8 125.06,456.3 139.91,455 154.75,447.1 169.59,435.8 184.43,423.6 199.27,412.5 214.11,404.2 228.95,399.9 243.79,394.5 258.63,396.1 273.47,402.4 288.31,402.4 303.16,392 318,387.3 332.84,387.8 347.68,395.7 362.52,403.9 377.36,410.2 392.2,400.8 407.04,396.1 421.88,395.4 436.72,396.4 451.57,401.4 466.41,399.6 481.25,383.2 496.09,385.5 510.93,383.2 525.77,379.6 540.61,384.5 555.45,377.7 570.29,371.3 585.13,364.6 599.98,353.9 614.82,353.9 629.66,353.9 644.5,353.9 659.34,354 674.18,357.1 689.02,353.3 703.86,354 718.7,353.7 733.54,352.5 748.39,351.7 763.23,345.2 778.07,340.3 792.91,347.1 807.75,331.4 822.59,339.9 837.43,350.9 852.27,339.6 867.11,336.7 881.96,346.5 896.8,349.7 911.64,352.1 926.48,332 941.32,332.4 956.16,353.8 971,350.5 985.84,348.7 1000.68,345.2" fill="none" stroke="#283008" stroke-width="1.4" stroke-linejoin="round" stroke-opacity="0.7" transform="translate(0,-0.6)" filter="url(#blur3)"/>
<g clip-path="url(#c_blue)">
<rect x="64.5" y="95.5" width="938" height="473" fill="url(#g_blue)"/>
<polyline points="65.7,513.8 80.54,511.7 95.38,509.4 110.22,509.7 125.06,506.3 139.91,501.9 154.75,496.9 169.59,490.6 184.43,484.1 199.27,474.5 214.11,468.8 228.95,467.3 243.79,466.3 258.63,473.2 273.47,472.8 288.31,472.3 303.16,466 318,466.1 332.84,469 347.68,469.4 362.52,469.4 377.36,472.4 392.2,464.3 407.04,463.1 421.88,460.6 436.72,462.5 451.57,467.2 466.41,468.2 481.25,459 496.09,456.8 510.93,454.6 525.77,448.4 540.61,455.6 555.45,449 570.29,444.8 585.13,441.6 599.98,437 614.82,437.6 629.66,440.8 644.5,444.5 659.34,434.5 674.18,433 689.02,431.2 703.86,433.7 718.7,435.7 733.54,433.4 748.39,434.1 763.23,428.2 778.07,423.5 792.91,428.6 807.75,427 822.59,432.9 837.43,441.3 852.27,430.2 867.11,430.2 881.96,440.5 896.8,443 911.64,445.9 926.48,430.2 941.32,430.8 956.16,443.4 971,443.4 985.84,443.4 1000.68,439.2" fill="none" stroke="#4a92ec" stroke-width="30" stroke-linejoin="round" stroke-opacity="0.18" filter="url(#blur2)"/>
<g fill="#86c6ff" filter="url(#blur1)"><path d="M65.4 512.8L80.84 510.7L80.84 518.7L65.4 520.8Z" fill-opacity="0.50"/><path d="M80.24 510.7L95.68 508.4L95.68 516.4L80.24 518.7Z" fill-opacity="0.50"/><path d="M95.08 508.4L110.52 508.7L110.52 516.7L95.08 516.4Z" fill-opacity="0.50"/><path d="M109.92 508.7L125.36 505.3L125.36 513.3L109.92 516.7Z" fill-opacity="0.50"/><path d="M124.76 505.3L140.21 500.9L140.21 508.9L124.76 513.3Z" fill-opacity="0.50"/><path d="M139.6 500.9L155.05 495.9L155.05 503.9L139.6 508.9Z" fill-opacity="0.50"/><path d="M154.45 495.9L169.89 489.6L169.89 497.6L154.45 503.9Z" fill-opacity="0.50"/><path d="M169.29 489.6L184.73 483.1L184.73 491.1L169.29 497.6Z" fill-opacity="0.50"/><path d="M184.13 483.1L199.57 473.5L199.57 481.5L184.13 491.1Z" fill-opacity="0.44"/><path d="M198.97 473.5L214.41 467.8L214.41 475.8L198.97 481.5Z" fill-opacity="0.50"/><path d="M213.81 467.8L229.25 466.3L229.25 474.3L213.81 475.8Z" fill-opacity="0.50"/><path d="M228.65 466.3L244.09 465.3L244.09 473.3L228.65 474.3Z" fill-opacity="0.50"/><path d="M243.49 465.3L258.93 472.2L258.93 480.2L243.49 473.3Z" fill-opacity="0.50"/><path d="M258.33 472.2L273.77 471.8L273.77 479.8L258.33 480.2Z" fill-opacity="0.50"/><path d="M273.17 471.8L288.62 471.3L288.62 479.3L273.17 479.8Z" fill-opacity="0.50"/><path d="M288.01 471.3L303.46 465L303.46 473L288.01 479.3Z" fill-opacity="0.50"/><path d="M302.86 465L318.3 465.1L318.3 473.1L302.86 473Z" fill-opacity="0.50"/><path d="M317.7 465.1L333.14 468L333.14 476L317.7 473.1Z" fill-opacity="0.50"/><path d="M332.54 468L347.98 468.4L347.98 476.4L332.54 476Z" fill-opacity="0.50"/><path d="M347.38 468.4L362.82 468.4L362.82 476.4L347.38 476.4Z" fill-opacity="0.50"/><path d="M362.22 468.4L377.66 471.4L377.66 479.4L362.22 476.4Z" fill-opacity="0.50"/><path d="M377.06 471.4L392.5 463.3L392.5 471.3L377.06 479.4Z" fill-opacity="0.50"/><path d="M391.9 463.3L407.34 462.1L407.34 470.1L391.9 471.3Z" fill-opacity="0.50"/><path d="M406.74 462.1L422.18 459.6L422.18 467.6L406.74 470.1Z" fill-opacity="0.50"/><path d="M421.58 459.6L437.02 461.5L437.02 469.5L421.58 467.6Z" fill-opacity="0.50"/><path d="M436.42 461.5L451.87 466.2L451.87 474.2L436.42 469.5Z" fill-opacity="0.50"/><path d="M451.27 466.2L466.71 467.2L466.71 475.2L451.27 474.2Z" fill-opacity="0.50"/><path d="M466.11 467.2L481.55 458L481.55 466L466.11 475.2Z" fill-opacity="0.46"/><path d="M480.95 458L496.39 455.8L496.39 463.8L480.95 466Z" fill-opacity="0.50"/><path d="M495.79 455.8L511.23 453.6L511.23 461.6L495.79 463.8Z" fill-opacity="0.50"/><path d="M510.63 453.6L526.07 447.4L526.07 455.4L510.63 461.6Z" fill-opacity="0.50"/><path d="M525.47 447.4L540.91 454.6L540.91 462.6L525.47 455.4Z" fill-opacity="0.50"/><path d="M540.31 454.6L555.75 448L555.75 456L540.31 462.6Z" fill-opacity="0.50"/><path d="M555.15 448L570.59 443.8L570.59 451.8L555.15 456Z" fill-opacity="0.50"/><path d="M569.99 443.8L585.43 440.6L585.43 448.6L569.99 451.8Z" fill-opacity="0.50"/><path d="M584.84 440.6L600.28 436L600.28 444L584.84 448.6Z" fill-opacity="0.50"/><path d="M599.68 436L615.12 436.6L615.12 444.6L599.68 444Z" fill-opacity="0.50"/><path d="M614.52 436.6L629.96 439.8L629.96 447.8L614.52 444.6Z" fill-opacity="0.50"/><path d="M629.36 439.8L644.8 443.5L644.8 451.5L629.36 447.8Z" fill-opacity="0.50"/><path d="M644.2 443.5L659.64 433.5L659.64 441.5L644.2 451.5Z" fill-opacity="0.42"/><path d="M659.04 433.5L674.48 432L674.48 440L659.04 441.5Z" fill-opacity="0.50"/><path d="M673.88 432L689.32 430.2L689.32 438.2L673.88 440Z" fill-opacity="0.50"/><path d="M688.72 430.2L704.16 432.7L704.16 440.7L688.72 438.2Z" fill-opacity="0.50"/><path d="M703.56 432.7L719 434.7L719 442.7L703.56 440.7Z" fill-opacity="0.50"/><path d="M718.4 434.7L733.84 432.4L733.84 440.4L718.4 442.7Z" fill-opacity="0.50"/><path d="M733.25 432.4L748.69 433.1L748.69 441.1L733.25 440.4Z" fill-opacity="0.50"/><path d="M748.09 433.1L763.53 427.2L763.53 435.2L748.09 441.1Z" fill-opacity="0.50"/><path d="M762.93 427.2L778.37 422.5L778.37 430.5L762.93 435.2Z" fill-opacity="0.50"/><path d="M777.77 422.5L793.21 427.6L793.21 435.6L777.77 430.5Z" fill-opacity="0.50"/><path d="M792.61 427.6L808.05 426L808.05 434L792.61 435.6Z" fill-opacity="0.50"/><path d="M807.45 426L822.89 431.9L822.89 439.9L807.45 434Z" fill-opacity="0.50"/><path d="M822.29 431.9L837.73 440.3L837.73 448.3L822.29 439.9Z" fill-opacity="0.50"/><path d="M837.13 440.3L852.57 429.2L852.57 437.2L837.13 448.3Z" fill-opacity="0.36"/><path d="M851.97 429.2L867.41 429.2L867.41 437.2L851.97 437.2Z" fill-opacity="0.50"/><path d="M866.81 429.2L882.25 439.5L882.25 447.5L866.81 437.2Z" fill-opacity="0.40"/><path d="M881.66 439.5L897.1 442L897.1 450L881.66 447.5Z" fill-opacity="0.50"/><path d="M896.5 442L911.94 444.9L911.94 452.9L896.5 450Z" fill-opacity="0.50"/><path d="M911.34 444.9L926.78 429.2L926.78 437.2L911.34 452.9Z" fill-opacity="0.17"/><path d="M926.18 429.2L941.62 429.8L941.62 437.8L926.18 437.2Z" fill-opacity="0.50"/><path d="M941.02 429.8L956.46 442.4L956.46 450.4L941.02 437.8Z" fill-opacity="0.29"/><path d="M955.86 442.4L971.3 442.4L971.3 450.4L955.86 450.4Z" fill-opacity="0.50"/><path d="M970.7 442.4L986.14 442.4L986.14 450.4L970.7 450.4Z" fill-opacity="0.50"/><path d="M985.54 442.4L1000.98 438.2L1000.98 446.2L985.54 450.4Z" fill-opacity="0.50"/></g>
<g fill="#86c6ff" filter="url(#blur3)"><path d="M65.4 512.8L80.84 510.7L80.84 515.5L65.4 517.6Z" fill-opacity="0.90"/><path d="M80.24 510.7L95.68 508.4L95.68 513.2L80.24 515.5Z" fill-opacity="0.90"/><path d="M95.08 508.4L110.52 508.7L110.52 513.5L95.08 513.2Z" fill-opacity="0.90"/><path d="M109.92 508.7L125.36 505.3L125.36 510.1L109.92 513.5Z" fill-opacity="0.90"/><path d="M124.76 505.3L140.21 500.9L140.21 505.7L124.76 510.1Z" fill-opacity="0.90"/><path d="M139.6 500.9L155.05 495.9L155.05 500.7L139.6 505.7Z" fill-opacity="0.90"/><path d="M154.45 495.9L169.89 489.6L169.89 494.4L154.45 500.7Z" fill-opacity="0.90"/><path d="M169.29 489.6L184.73 483.1L184.73 487.9L169.29 494.4Z" fill-opacity="0.90"/><path d="M184.13 483.1L199.57 473.5L199.57 478.3L184.13 487.9Z" fill-opacity="0.80"/><path d="M198.97 473.5L214.41 467.8L214.41 472.6L198.97 478.3Z" fill-opacity="0.90"/><path d="M213.81 467.8L229.25 466.3L229.25 471.1L213.81 472.6Z" fill-opacity="0.90"/><path d="M228.65 466.3L244.09 465.3L244.09 470.1L228.65 471.1Z" fill-opacity="0.90"/><path d="M243.49 465.3L258.93 472.2L258.93 477L243.49 470.1Z" fill-opacity="0.90"/><path d="M258.33 472.2L273.77 471.8L273.77 476.6L258.33 477Z" fill-opacity="0.90"/><path d="M273.17 471.8L288.62 471.3L288.62 476.1L273.17 476.6Z" fill-opacity="0.90"/><path d="M288.01 471.3L303.46 465L303.46 469.8L288.01 476.1Z" fill-opacity="0.90"/><path d="M302.86 465L318.3 465.1L318.3 469.9L302.86 469.8Z" fill-opacity="0.90"/><path d="M317.7 465.1L333.14 468L333.14 472.8L317.7 469.9Z" fill-opacity="0.90"/><path d="M332.54 468L347.98 468.4L347.98 473.2L332.54 472.8Z" fill-opacity="0.90"/><path d="M347.38 468.4L362.82 468.4L362.82 473.2L347.38 473.2Z" fill-opacity="0.90"/><path d="M362.22 468.4L377.66 471.4L377.66 476.2L362.22 473.2Z" fill-opacity="0.90"/><path d="M377.06 471.4L392.5 463.3L392.5 468.1L377.06 476.2Z" fill-opacity="0.90"/><path d="M391.9 463.3L407.34 462.1L407.34 466.9L391.9 468.1Z" fill-opacity="0.90"/><path d="M406.74 462.1L422.18 459.6L422.18 464.4L406.74 466.9Z" fill-opacity="0.90"/><path d="M421.58 459.6L437.02 461.5L437.02 466.3L421.58 464.4Z" fill-opacity="0.90"/><path d="M436.42 461.5L451.87 466.2L451.87 471L436.42 466.3Z" fill-opacity="0.90"/><path d="M451.27 466.2L466.71 467.2L466.71 472L451.27 471Z" fill-opacity="0.90"/><path d="M466.11 467.2L481.55 458L481.55 462.8L466.11 472Z" fill-opacity="0.84"/><path d="M480.95 458L496.39 455.8L496.39 460.6L480.95 462.8Z" fill-opacity="0.90"/><path d="M495.79 455.8L511.23 453.6L511.23 458.4L495.79 460.6Z" fill-opacity="0.90"/><path d="M510.63 453.6L526.07 447.4L526.07 452.2L510.63 458.4Z" fill-opacity="0.90"/><path d="M525.47 447.4L540.91 454.6L540.91 459.4L525.47 452.2Z" fill-opacity="0.90"/><path d="M540.31 454.6L555.75 448L555.75 452.8L540.31 459.4Z" fill-opacity="0.90"/><path d="M555.15 448L570.59 443.8L570.59 448.6L555.15 452.8Z" fill-opacity="0.90"/><path d="M569.99 443.8L585.43 440.6L585.43 445.4L569.99 448.6Z" fill-opacity="0.90"/><path d="M584.84 440.6L600.28 436L600.28 440.8L584.84 445.4Z" fill-opacity="0.90"/><path d="M599.68 436L615.12 436.6L615.12 441.4L599.68 440.8Z" fill-opacity="0.90"/><path d="M614.52 436.6L629.96 439.8L629.96 444.6L614.52 441.4Z" fill-opacity="0.90"/><path d="M629.36 439.8L644.8 443.5L644.8 448.3L629.36 444.6Z" fill-opacity="0.90"/><path d="M644.2 443.5L659.64 433.5L659.64 438.3L644.2 448.3Z" fill-opacity="0.76"/><path d="M659.04 433.5L674.48 432L674.48 436.8L659.04 438.3Z" fill-opacity="0.90"/><path d="M673.88 432L689.32 430.2L689.32 435L673.88 436.8Z" fill-opacity="0.90"/><path d="M688.72 430.2L704.16 432.7L704.16 437.5L688.72 435Z" fill-opacity="0.90"/><path d="M703.56 432.7L719 434.7L719 439.5L703.56 437.5Z" fill-opacity="0.90"/><path d="M718.4 434.7L733.84 432.4L733.84 437.2L718.4 439.5Z" fill-opacity="0.90"/><path d="M733.25 432.4L748.69 433.1L748.69 437.9L733.25 437.2Z" fill-opacity="0.90"/><path d="M748.09 433.1L763.53 427.2L763.53 432L748.09 437.9Z" fill-opacity="0.90"/><path d="M762.93 427.2L778.37 422.5L778.37 427.3L762.93 432Z" fill-opacity="0.90"/><path d="M777.77 422.5L793.21 427.6L793.21 432.4L777.77 427.3Z" fill-opacity="0.90"/><path d="M792.61 427.6L808.05 426L808.05 430.8L792.61 432.4Z" fill-opacity="0.90"/><path d="M807.45 426L822.89 431.9L822.89 436.7L807.45 430.8Z" fill-opacity="0.90"/><path d="M822.29 431.9L837.73 440.3L837.73 445.1L822.29 436.7Z" fill-opacity="0.90"/><path d="M837.13 440.3L852.57 429.2L852.57 434L837.13 445.1Z" fill-opacity="0.66"/><path d="M851.97 429.2L867.41 429.2L867.41 434L851.97 434Z" fill-opacity="0.90"/><path d="M866.81 429.2L882.25 439.5L882.25 444.3L866.81 434Z" fill-opacity="0.73"/><path d="M881.66 439.5L897.1 442L897.1 446.8L881.66 444.3Z" fill-opacity="0.90"/><path d="M896.5 442L911.94 444.9L911.94 449.7L896.5 446.8Z" fill-opacity="0.90"/><path d="M911.34 444.9L926.78 429.2L926.78 434L911.34 449.7Z" fill-opacity="0.30"/><path d="M926.18 429.2L941.62 429.8L941.62 434.6L926.18 434Z" fill-opacity="0.90"/><path d="M941.02 429.8L956.46 442.4L956.46 447.2L941.02 434.6Z" fill-opacity="0.53"/><path d="M955.86 442.4L971.3 442.4L971.3 447.2L955.86 447.2Z" fill-opacity="0.90"/><path d="M970.7 442.4L986.14 442.4L986.14 447.2L970.7 447.2Z" fill-opacity="0.90"/><path d="M985.54 442.4L1000.98 438.2L1000.98 443L985.54 447.2Z" fill-opacity="0.90"/></g>
<path d="M66 95.5V568.5" stroke="#4a92ec" stroke-width="7" stroke-opacity="0.45" filter="url(#blur1)"/>
<path d="M1000 95.5V568.5" stroke="#000" stroke-width="6" stroke-opacity="0.22" filter="url(#blur1)"/>
</g>
<polyline points="65.7,513.8 80.54,511.7 95.38,509.4 110.22,509.7 125.06,506.3 139.91,501.9 154.75,496.9 169.59,490.6 184.43,484.1 199.27,474.5 214.11,468.8 228.95,467.3 243.79,466.3 258.63,473.2 273.47,472.8 288.31,472.3 303.16,466 318,466.1 332.84,469 347.68,469.4 362.52,469.4 377.36,472.4 392.2,464.3 407.04,463.1 421.88,460.6 436.72,462.5 451.57,467.2 466.41,468.2 481.25,459 496.09,456.8 510.93,454.6 525.77,448.4 540.61,455.6 555.45,449 570.29,444.8 585.13,441.6 599.98,437 614.82,437.6 629.66,440.8 644.5,444.5 659.34,434.5 674.18,433 689.02,431.2 703.86,433.7 718.7,435.7 733.54,433.4 748.39,434.1 763.23,428.2 778.07,423.5 792.91,428.6 807.75,427 822.59,432.9 837.43,441.3 852.27,430.2 867.11,430.2 881.96,440.5 896.8,443 911.64,445.9 926.48,430.2 941.32,430.8 956.16,443.4 971,443.4 985.84,443.4 1000.68,439.2" fill="none" stroke="#000" stroke-width="5" stroke-linejoin="round" stroke-opacity="0.16" transform="translate(0,-1.5)" filter="url(#blur1)"/>
<polyline points="65.7,513.8 80.54,511.7 95.38,509.4 110.22,509.7 125.06,506.3 139.91,501.9 154.75,496.9 169.59,490.6 184.43,484.1 199.27,474.5 214.11,468.8 228.95,467.3 243.79,466.3 258.63,473.2 273.47,472.8 288.31,472.3 303.16,466 318,466.1 332.84,469 347.68,469.4 362.52,469.4 377.36,472.4 392.2,464.3 407.04,463.1 421.88,460.6 436.72,462.5 451.57,467.2 466.41,468.2 481.25,459 496.09,456.8 510.93,454.6 525.77,448.4 540.61,455.6 555.45,449 570.29,444.8 585.13,441.6 599.98,437 614.82,437.6 629.66,440.8 644.5,444.5 659.34,434.5 674.18,433 689.02,431.2 703.86,433.7 718.7,435.7 733.54,433.4 748.39,434.1 763.23,428.2 778.07,423.5 792.91,428.6 807.75,427 822.59,432.9 837.43,441.3 852.27,430.2 867.11,430.2 881.96,440.5 896.8,443 911.64,445.9 926.48,430.2 941.32,430.8 956.16,443.4 971,443.4 985.84,443.4 1000.68,439.2" fill="none" stroke="#18185c" stroke-width="1.4" stroke-linejoin="round" stroke-opacity="0.7" transform="translate(0,-0.6)" filter="url(#blur3)"/>
<g clip-path="url(#c_red)">
<rect x="64.5" y="95.5" width="938" height="473" fill="url(#g_red)"/>
<polyline points="65.7,549.9 80.54,549.1 95.38,548.2 110.22,548.2 125.06,546.6 139.91,545.3 154.75,543.7 169.59,537.7 184.43,533.2 199.27,528.9 214.11,526 228.95,525.2 243.79,526 258.63,527.9 273.47,527.3 288.31,527.9 303.16,524.4 318,524.7 332.84,526.8 347.68,525.2 362.52,526.8 377.36,526.2 392.2,524.3 407.04,523.4 421.88,518.7 436.72,520.7 451.57,522.2 466.41,522.2 481.25,518.3 496.09,517.3 510.93,514.9 525.77,512.6 540.61,515.7 555.45,514.5 570.29,510.2 585.13,507.8 599.98,507 614.82,507.9 629.66,509.9 644.5,511.2 659.34,506.3 674.18,505.8 689.02,505.2 703.86,507.1 718.7,506.5 733.54,506.2 748.39,505.5 763.23,503.3 778.07,500.5 792.91,504.6 807.75,503.3 822.59,506.5 837.43,508.4 852.27,504.6 867.11,504.2 881.96,507.1 896.8,508.5 911.64,510.3 926.48,504.6 941.32,504.6 956.16,510.9 971,510.5 985.84,510.9 1000.68,505.2" fill="none" stroke="#e43434" stroke-width="30" stroke-linejoin="round" stroke-opacity="0.18" filter="url(#blur2)"/>
<g fill="#ff8282" filter="url(#blur1)"><path d="M65.4 548.9L80.84 548.1L80.84 556.1L65.4 556.9Z" fill-opacity="0.50"/><path d="M80.24 548.1L95.68 547.2L95.68 555.2L80.24 556.1Z" fill-opacity="0.50"/><path d="M95.08 547.2L110.52 547.2L110.52 555.2L95.08 555.2Z" fill-opacity="0.50"/><path d="M109.92 547.2L125.36 545.6L125.36 553.6L109.92 555.2Z" fill-opacity="0.50"/><path d="M124.76 545.6L140.21 544.3L140.21 552.3L124.76 553.6Z" fill-opacity="0.50"/><path d="M139.6 544.3L155.05 542.7L155.05 550.7L139.6 552.3Z" fill-opacity="0.50"/><path d="M154.45 542.7L169.89 536.7L169.89 544.7L154.45 550.7Z" fill-opacity="0.50"/><path d="M169.29 536.7L184.73 532.2L184.73 540.2L169.29 544.7Z" fill-opacity="0.50"/><path d="M184.13 532.2L199.57 527.9L199.57 535.9L184.13 540.2Z" fill-opacity="0.50"/><path d="M198.97 527.9L214.41 525L214.41 533L198.97 535.9Z" fill-opacity="0.50"/><path d="M213.81 525L229.25 524.2L229.25 532.2L213.81 533Z" fill-opacity="0.50"/><path d="M228.65 524.2L244.09 525L244.09 533L228.65 532.2Z" fill-opacity="0.50"/><path d="M243.49 525L258.93 526.9L258.93 534.9L243.49 533Z" fill-opacity="0.50"/><path d="M258.33 526.9L273.77 526.3L273.77 534.3L258.33 534.9Z" fill-opacity="0.50"/><path d="M273.17 526.3L288.62 526.9L288.62 534.9L273.17 534.3Z" fill-opacity="0.50"/><path d="M288.01 526.9L303.46 523.4L303.46 531.4L288.01 534.9Z" fill-opacity="0.50"/><path d="M302.86 523.4L318.3 523.7L318.3 531.7L302.86 531.4Z" fill-opacity="0.50"/><path d="M317.7 523.7L333.14 525.8L333.14 533.8L317.7 531.7Z" fill-opacity="0.50"/><path d="M332.54 525.8L347.98 524.2L347.98 532.2L332.54 533.8Z" fill-opacity="0.50"/><path d="M347.38 524.2L362.82 525.8L362.82 533.8L347.38 532.2Z" fill-opacity="0.50"/><path d="M362.22 525.8L377.66 525.2L377.66 533.2L362.22 533.8Z" fill-opacity="0.50"/><path d="M377.06 525.2L392.5 523.3L392.5 531.3L377.06 533.2Z" fill-opacity="0.50"/><path d="M391.9 523.3L407.34 522.4L407.34 530.4L391.9 531.3Z" fill-opacity="0.50"/><path d="M406.74 522.4L422.18 517.7L422.18 525.7L406.74 530.4Z" fill-opacity="0.50"/><path d="M421.58 517.7L437.02 519.7L437.02 527.7L421.58 525.7Z" fill-opacity="0.50"/><path d="M436.42 519.7L451.87 521.2L451.87 529.2L436.42 527.7Z" fill-opacity="0.50"/><path d="M451.27 521.2L466.71 521.2L466.71 529.2L451.27 529.2Z" fill-opacity="0.50"/><path d="M466.11 521.2L481.55 517.3L481.55 525.3L466.11 529.2Z" fill-opacity="0.50"/><path d="M480.95 517.3L496.39 516.3L496.39 524.3L480.95 525.3Z" fill-opacity="0.50"/><path d="M495.79 516.3L511.23 513.9L511.23 521.9L495.79 524.3Z" fill-opacity="0.50"/><path d="M510.63 513.9L526.07 511.6L526.07 519.6L510.63 521.9Z" fill-opacity="0.50"/><path d="M525.47 511.6L540.91 514.7L540.91 522.7L525.47 519.6Z" fill-opacity="0.50"/><path d="M540.31 514.7L555.75 513.5L555.75 521.5L540.31 522.7Z" fill-opacity="0.50"/><path d="M555.15 513.5L570.59 509.2L570.59 517.2L555.15 521.5Z" fill-opacity="0.50"/><path d="M569.99 509.2L585.43 506.8L585.43 514.8L569.99 517.2Z" fill-opacity="0.50"/><path d="M584.84 506.8L600.28 506L600.28 514L584.84 514.8Z" fill-opacity="0.50"/><path d="M599.68 506L615.12 506.9L615.12 514.9L599.68 514Z" fill-opacity="0.50"/><path d="M614.52 506.9L629.96 508.9L629.96 516.9L614.52 514.9Z" fill-opacity="0.50"/><path d="M629.36 508.9L644.8 510.2L644.8 518.2L629.36 516.9Z" fill-opacity="0.50"/><path d="M644.2 510.2L659.64 505.3L659.64 513.3L644.2 518.2Z" fill-opacity="0.50"/><path d="M659.04 505.3L674.48 504.8L674.48 512.8L659.04 513.3Z" fill-opacity="0.50"/><path d="M673.88 504.8L689.32 504.2L689.32 512.2L673.88 512.8Z" fill-opacity="0.50"/><path d="M688.72 504.2L704.16 506.1L704.16 514.1L688.72 512.2Z" fill-opacity="0.50"/><path d="M703.56 506.1L719 505.5L719 513.5L703.56 514.1Z" fill-opacity="0.50"/><path d="M718.4 505.5L733.84 505.2L733.84 513.2L718.4 513.5Z" fill-opacity="0.50"/><path d="M733.25 505.2L748.69 504.5L748.69 512.5L733.25 513.2Z" fill-opacity="0.50"/><path d="M748.09 504.5L763.53 502.3L763.53 510.3L748.09 512.5Z" fill-opacity="0.50"/><path d="M762.93 502.3L778.37 499.5L778.37 507.5L762.93 510.3Z" fill-opacity="0.50"/><path d="M777.77 499.5L793.21 503.6L793.21 511.6L777.77 507.5Z" fill-opacity="0.50"/><path d="M792.61 503.6L808.05 502.3L808.05 510.3L792.61 511.6Z" fill-opacity="0.50"/><path d="M807.45 502.3L822.89 505.5L822.89 513.5L807.45 510.3Z" fill-opacity="0.50"/><path d="M822.29 505.5L837.73 507.4L837.73 515.4L822.29 513.5Z" fill-opacity="0.50"/><path d="M837.13 507.4L852.57 503.6L852.57 511.6L837.13 515.4Z" fill-opacity="0.50"/><path d="M851.97 503.6L867.41 503.2L867.41 511.2L851.97 511.6Z" fill-opacity="0.50"/><path d="M866.81 503.2L882.25 506.1L882.25 514.1L866.81 511.2Z" fill-opacity="0.50"/><path d="M881.66 506.1L897.1 507.5L897.1 515.5L881.66 514.1Z" fill-opacity="0.50"/><path d="M896.5 507.5L911.94 509.3L911.94 517.3L896.5 515.5Z" fill-opacity="0.50"/><path d="M911.34 509.3L926.78 503.6L926.78 511.6L911.34 517.3Z" fill-opacity="0.50"/><path d="M926.18 503.6L941.62 503.6L941.62 511.6L926.18 511.6Z" fill-opacity="0.50"/><path d="M941.02 503.6L956.46 509.9L956.46 517.9L941.02 511.6Z" fill-opacity="0.50"/><path d="M955.86 509.9L971.3 509.5L971.3 517.5L955.86 517.9Z" fill-opacity="0.50"/><path d="M970.7 509.5L986.14 509.9L986.14 517.9L970.7 517.5Z" fill-opacity="0.50"/><path d="M985.54 509.9L1000.98 504.2L1000.98 512.2L985.54 517.9Z" fill-opacity="0.50"/></g>
<g fill="#ff8282" filter="url(#blur3)"><path d="M65.4 548.9L80.84 548.1L80.84 552.9L65.4 553.7Z" fill-opacity="0.90"/><path d="M80.24 548.1L95.68 547.2L95.68 552L80.24 552.9Z" fill-opacity="0.90"/><path d="M95.08 547.2L110.52 547.2L110.52 552L95.08 552Z" fill-opacity="0.90"/><path d="M109.92 547.2L125.36 545.6L125.36 550.4L109.92 552Z" fill-opacity="0.90"/><path d="M124.76 545.6L140.21 544.3L140.21 549.1L124.76 550.4Z" fill-opacity="0.90"/><path d="M139.6 544.3L155.05 542.7L155.05 547.5L139.6 549.1Z" fill-opacity="0.90"/><path d="M154.45 542.7L169.89 536.7L169.89 541.5L154.45 547.5Z" fill-opacity="0.90"/><path d="M169.29 536.7L184.73 532.2L184.73 537L169.29 541.5Z" fill-opacity="0.90"/><path d="M184.13 532.2L199.57 527.9L199.57 532.7L184.13 537Z" fill-opacity="0.90"/><path d="M198.97 527.9L214.41 525L214.41 529.8L198.97 532.7Z" fill-opacity="0.90"/><path d="M213.81 525L229.25 524.2L229.25 529L213.81 529.8Z" fill-opacity="0.90"/><path d="M228.65 524.2L244.09 525L244.09 529.8L228.65 529Z" fill-opacity="0.90"/><path d="M243.49 525L258.93 526.9L258.93 531.7L243.49 529.8Z" fill-opacity="0.90"/><path d="M258.33 526.9L273.77 526.3L273.77 531.1L258.33 531.7Z" fill-opacity="0.90"/><path d="M273.17 526.3L288.62 526.9L288.62 531.7L273.17 531.1Z" fill-opacity="0.90"/><path d="M288.01 526.9L303.46 523.4L303.46 528.2L288.01 531.7Z" fill-opacity="0.90"/><path d="M302.86 523.4L318.3 523.7L318.3 528.5L302.86 528.2Z" fill-opacity="0.90"/><path d="M317.7 523.7L333.14 525.8L333.14 530.6L317.7 528.5Z" fill-opacity="0.90"/><path d="M332.54 525.8L347.98 524.2L347.98 529L332.54 530.6Z" fill-opacity="0.90"/><path d="M347.38 524.2L362.82 525.8L362.82 530.6L347.38 529Z" fill-opacity="0.90"/><path d="M362.22 525.8L377.66 525.2L377.66 530L362.22 530.6Z" fill-opacity="0.90"/><path d="M377.06 525.2L392.5 523.3L392.5 528.1L377.06 530Z" fill-opacity="0.90"/><path d="M391.9 523.3L407.34 522.4L407.34 527.2L391.9 528.1Z" fill-opacity="0.90"/><path d="M406.74 522.4L422.18 517.7L422.18 522.5L406.74 527.2Z" fill-opacity="0.90"/><path d="M421.58 517.7L437.02 519.7L437.02 524.5L421.58 522.5Z" fill-opacity="0.90"/><path d="M436.42 519.7L451.87 521.2L451.87 526L436.42 524.5Z" fill-opacity="0.90"/><path d="M451.27 521.2L466.71 521.2L466.71 526L451.27 526Z" fill-opacity="0.90"/><path d="M466.11 521.2L481.55 517.3L481.55 522.1L466.11 526Z" fill-opacity="0.90"/><path d="M480.95 517.3L496.39 516.3L496.39 521.1L480.95 522.1Z" fill-opacity="0.90"/><path d="M495.79 516.3L511.23 513.9L511.23 518.7L495.79 521.1Z" fill-opacity="0.90"/><path d="M510.63 513.9L526.07 511.6L526.07 516.4L510.63 518.7Z" fill-opacity="0.90"/><path d="M525.47 511.6L540.91 514.7L540.91 519.5L525.47 516.4Z" fill-opacity="0.90"/><path d="M540.31 514.7L555.75 513.5L555.75 518.3L540.31 519.5Z" fill-opacity="0.90"/><path d="M555.15 513.5L570.59 509.2L570.59 514L555.15 518.3Z" fill-opacity="0.90"/><path d="M569.99 509.2L585.43 506.8L585.43 511.6L569.99 514Z" fill-opacity="0.90"/><path d="M584.84 506.8L600.28 506L600.28 510.8L584.84 511.6Z" fill-opacity="0.90"/><path d="M599.68 506L615.12 506.9L615.12 511.7L599.68 510.8Z" fill-opacity="0.90"/><path d="M614.52 506.9L629.96 508.9L629.96 513.7L614.52 511.7Z" fill-opacity="0.90"/><path d="M629.36 508.9L644.8 510.2L644.8 515L629.36 513.7Z" fill-opacity="0.90"/><path d="M644.2 510.2L659.64 505.3L659.64 510.1L644.2 515Z" fill-opacity="0.90"/><path d="M659.04 505.3L674.48 504.8L674.48 509.6L659.04 510.1Z" fill-opacity="0.90"/><path d="M673.88 504.8L689.32 504.2L689.32 509L673.88 509.6Z" fill-opacity="0.90"/><path d="M688.72 504.2L704.16 506.1L704.16 510.9L688.72 509Z" fill-opacity="0.90"/><path d="M703.56 506.1L719 505.5L719 510.3L703.56 510.9Z" fill-opacity="0.90"/><path d="M718.4 505.5L733.84 505.2L733.84 510L718.4 510.3Z" fill-opacity="0.90"/><path d="M733.25 505.2L748.69 504.5L748.69 509.3L733.25 510Z" fill-opacity="0.90"/><path d="M748.09 504.5L763.53 502.3L763.53 507.1L748.09 509.3Z" fill-opacity="0.90"/><path d="M762.93 502.3L778.37 499.5L778.37 504.3L762.93 507.1Z" fill-opacity="0.90"/><path d="M777.77 499.5L793.21 503.6L793.21 508.4L777.77 504.3Z" fill-opacity="0.90"/><path d="M792.61 503.6L808.05 502.3L808.05 507.1L792.61 508.4Z" fill-opacity="0.90"/><path d="M807.45 502.3L822.89 505.5L822.89 510.3L807.45 507.1Z" fill-opacity="0.90"/><path d="M822.29 505.5L837.73 507.4L837.73 512.2L822.29 510.3Z" fill-opacity="0.90"/><path d="M837.13 507.4L852.57 503.6L852.57 508.4L837.13 512.2Z" fill-opacity="0.90"/><path d="M851.97 503.6L867.41 503.2L867.41 508L851.97 508.4Z" fill-opacity="0.90"/><path d="M866.81 503.2L882.25 506.1L882.25 510.9L866.81 508Z" fill-opacity="0.90"/><path d="M881.66 506.1L897.1 507.5L897.1 512.3L881.66 510.9Z" fill-opacity="0.90"/><path d="M896.5 507.5L911.94 509.3L911.94 514.1L896.5 512.3Z" fill-opacity="0.90"/><path d="M911.34 509.3L926.78 503.6L926.78 508.4L911.34 514.1Z" fill-opacity="0.90"/><path d="M926.18 503.6L941.62 503.6L941.62 508.4L926.18 508.4Z" fill-opacity="0.90"/><path d="M941.02 503.6L956.46 509.9L956.46 514.7L941.02 508.4Z" fill-opacity="0.90"/><path d="M955.86 509.9L971.3 509.5L971.3 514.3L955.86 514.7Z" fill-opacity="0.90"/><path d="M970.7 509.5L986.14 509.9L986.14 514.7L970.7 514.3Z" fill-opacity="0.90"/><path d="M985.54 509.9L1000.98 504.2L1000.98 509L985.54 514.7Z" fill-opacity="0.90"/></g>
<path d="M66 95.5V568.5" stroke="#e43434" stroke-width="7" stroke-opacity="0.45" filter="url(#blur1)"/>
<path d="M1000 95.5V568.5" stroke="#000" stroke-width="6" stroke-opacity="0.22" filter="url(#blur1)"/>
</g>
<polyline points="65.7,549.9 80.54,549.1 95.38,548.2 110.22,548.2 125.06,546.6 139.91,545.3 154.75,543.7 169.59,537.7 184.43,533.2 199.27,528.9 214.11,526 228.95,525.2 243.79,526 258.63,527.9 273.47,527.3 288.31,527.9 303.16,524.4 318,524.7 332.84,526.8 347.68,525.2 362.52,526.8 377.36,526.2 392.2,524.3 407.04,523.4 421.88,518.7 436.72,520.7 451.57,522.2 466.41,522.2 481.25,518.3 496.09,517.3 510.93,514.9 525.77,512.6 540.61,515.7 555.45,514.5 570.29,510.2 585.13,507.8 599.98,507 614.82,507.9 629.66,509.9 644.5,511.2 659.34,506.3 674.18,505.8 689.02,505.2 703.86,507.1 718.7,506.5 733.54,506.2 748.39,505.5 763.23,503.3 778.07,500.5 792.91,504.6 807.75,503.3 822.59,506.5 837.43,508.4 852.27,504.6 867.11,504.2 881.96,507.1 896.8,508.5 911.64,510.3 926.48,504.6 941.32,504.6 956.16,510.9 971,510.5 985.84,510.9 1000.68,505.2" fill="none" stroke="#000" stroke-width="5" stroke-linejoin="round" stroke-opacity="0.16" transform="translate(0,-1.5)" filter="url(#blur1)"/>
<polyline points="65.7,549.9 80.54,549.1 95.38,548.2 110.22,548.2 125.06,546.6 139.91,545.3 154.75,543.7 169.59,537.7 184.43,533.2 199.27,528.9 214.11,526 228.95,525.2 243.79,526 258.63,527.9 273.47,527.3 288.31,527.9 303.16,524.4 318,524.7 332.84,526.8 347.68,525.2 362.52,526.8 377.36,526.2 392.2,524.3 407.04,523.4 421.88,518.7 436.72,520.7 451.57,522.2 466.41,522.2 481.25,518.3 496.09,517.3 510.93,514.9 525.77,512.6 540.61,515.7 555.45,514.5 570.29,510.2 585.13,507.8 599.98,507 614.82,507.9 629.66,509.9 644.5,511.2 659.34,506.3 674.18,505.8 689.02,505.2 703.86,507.1 718.7,506.5 733.54,506.2 748.39,505.5 763.23,503.3 778.07,500.5 792.91,504.6 807.75,503.3 822.59,506.5 837.43,508.4 852.27,504.6 867.11,504.2 881.96,507.1 896.8,508.5 911.64,510.3 926.48,504.6 941.32,504.6 956.16,510.9 971,510.5 985.84,510.9 1000.68,505.2" fill="none" stroke="#14142c" stroke-width="1.4" stroke-linejoin="round" stroke-opacity="0.7" transform="translate(0,-0.6)" filter="url(#blur3)"/>
<path d="M65.5 95V574M61 568.5H1001" stroke="#b2b2b2" stroke-width="1" fill="none"/>
<text x="498.75" y="41.75" font-size="21" text-anchor="middle" font-weight="normal" textLength="435" lengthAdjust="spacingAndGlyphs">Total Energy Consumption by End-Use Sector</text>
<text x="499" y="70.5" font-size="21" text-anchor="middle" font-weight="normal" textLength="214.5" lengthAdjust="spacingAndGlyphs">Nebraska, 1960 - 2023</text>
<text x="52" y="572.9" font-size="12.2" text-anchor="end" font-weight="normal" textLength="7" lengthAdjust="spacingAndGlyphs">0</text>
<text x="52" y="525.9" font-size="12.2" text-anchor="end" font-weight="normal" textLength="21.4" lengthAdjust="spacingAndGlyphs">100</text>
<text x="52" y="477.9" font-size="12.2" text-anchor="end" font-weight="normal" textLength="21.4" lengthAdjust="spacingAndGlyphs">200</text>
<text x="52" y="430.9" font-size="12.2" text-anchor="end" font-weight="normal" textLength="21.4" lengthAdjust="spacingAndGlyphs">300</text>
<text x="52" y="383.9" font-size="12.2" text-anchor="end" font-weight="normal" textLength="21.4" lengthAdjust="spacingAndGlyphs">400</text>
<text x="52" y="336.9" font-size="12.2" text-anchor="end" font-weight="normal" textLength="21.4" lengthAdjust="spacingAndGlyphs">500</text>
<text x="52" y="288.9" font-size="12.2" text-anchor="end" font-weight="normal" textLength="21.4" lengthAdjust="spacingAndGlyphs">600</text>
<text x="52" y="241.9" font-size="12.2" text-anchor="end" font-weight="normal" textLength="21.4" lengthAdjust="spacingAndGlyphs">700</text>
<text x="52" y="194.9" font-size="12.2" text-anchor="end" font-weight="normal" textLength="21.4" lengthAdjust="spacingAndGlyphs">800</text>
<text x="52" y="147.9" font-size="12.2" text-anchor="end" font-weight="normal" textLength="21.4" lengthAdjust="spacingAndGlyphs">900</text>
<text x="52" y="99.9" font-size="12.2" text-anchor="end" font-weight="normal" textLength="31.6" lengthAdjust="spacingAndGlyphs">1,000</text>
<text x="65.2" y="592" font-size="12.2" text-anchor="middle" font-weight="normal" textLength="28.4" lengthAdjust="spacingAndGlyphs">1960</text>
<text x="110.2" y="592" font-size="12.2" text-anchor="middle" font-weight="normal" textLength="28.4" lengthAdjust="spacingAndGlyphs">1963</text>
<text x="154.2" y="592" font-size="12.2" text-anchor="middle" font-weight="normal" textLength="28.4" lengthAdjust="spacingAndGlyphs">1966</text>
<text x="199.2" y="592" font-size="12.2" text-anchor="middle" font-weight="normal" textLength="28.4" lengthAdjust="spacingAndGlyphs">1969</text>
<text x="243.2" y="592" font-size="12.2" text-anchor="middle" font-weight="normal" textLength="28.4" lengthAdjust="spacingAndGlyphs">1972</text>
<text x="288.2" y="592" font-size="12.2" text-anchor="middle" font-weight="normal" textLength="28.4" lengthAdjust="spacingAndGlyphs">1975</text>
<text x="332.2" y="592" font-size="12.2" text-anchor="middle" font-weight="normal" textLength="28.4" lengthAdjust="spacingAndGlyphs">1978</text>
<text x="377.2" y="592" font-size="12.2" text-anchor="middle" font-weight="normal" textLength="28.4" lengthAdjust="spacingAndGlyphs">1981</text>
<text x="421.2" y="592" font-size="12.2" text-anchor="middle" font-weight="normal" textLength="28.4" lengthAdjust="spacingAndGlyphs">1984</text>
<text x="466.2" y="592" font-size="12.2" text-anchor="middle" font-weight="normal" textLength="28.4" lengthAdjust="spacingAndGlyphs">1987</text>
<text x="510.2" y="592" font-size="12.2" text-anchor="middle" font-weight="normal" textLength="28.4" lengthAdjust="spacingAndGlyphs">1990</text>
<text x="555.2" y="592" font-size="12.2" text-anchor="middle" font-weight="normal" textLength="28.4" lengthAdjust="spacingAndGlyphs">1993</text>
<text x="599.2" y="592" font-size="12.2" text-anchor="middle" font-weight="normal" textLength="28.4" lengthAdjust="spacingAndGlyphs">1996</text>
<text x="644.2" y="592" font-size="12.2" text-anchor="middle" font-weight="normal" textLength="28.4" lengthAdjust="spacingAndGlyphs">1999</text>
<text x="689.2" y="592" font-size="12.2" text-anchor="middle" font-weight="normal" textLength="28.4" lengthAdjust="spacingAndGlyphs">2002</text>
<text x="733.2" y="592" font-size="12.2" text-anchor="middle" font-weight="normal" textLength="28.4" lengthAdjust="spacingAndGlyphs">2005</text>
<text x="778.2" y="592" font-size="12.2" text-anchor="middle" font-weight="normal" textLength="28.4" lengthAdjust="spacingAndGlyphs">2008</text>
<text x="822.2" y="592" font-size="12.2" text-anchor="middle" font-weight="normal" textLength="28.4" lengthAdjust="spacingAndGlyphs">2011</text>
<text x="867.2" y="592" font-size="12.2" text-anchor="middle" font-weight="normal" textLength="28.4" lengthAdjust="spacingAndGlyphs">2014</text>
<text x="911.2" y="592" font-size="12.2" text-anchor="middle" font-weight="normal" textLength="28.4" lengthAdjust="spacingAndGlyphs">2017</text>
<text x="956.2" y="592" font-size="12.2" text-anchor="middle" font-weight="normal" textLength="28.4" lengthAdjust="spacingAndGlyphs">2020</text>
<text x="1000.2" y="592" font-size="12.2" text-anchor="middle" font-weight="normal" textLength="28.4" lengthAdjust="spacingAndGlyphs">2023</text>
<text transform="translate(19.3,306) rotate(-90)" font-size="12.2" text-anchor="middle" textLength="66" lengthAdjust="spacingAndGlyphs">Trillion Btu</text>
<text x="985" y="623" font-size="12.2" text-anchor="end" font-weight="normal" textLength="46.5" lengthAdjust="spacingAndGlyphs">Figure 2</text>
<text x="530" y="353" font-size="12.4" text-anchor="middle" font-weight="bold" textLength="58" lengthAdjust="spacingAndGlyphs">Industrial</text>
<text x="533.1" y="425.6" font-size="12.4" text-anchor="middle" font-weight="bold" textLength="90" lengthAdjust="spacingAndGlyphs">Transportation</text>
<text x="532.7" y="487.9" font-size="12.4" text-anchor="middle" font-weight="bold" textLength="68.4" lengthAdjust="spacingAndGlyphs">Residential</text>
<text x="532.4" y="545.6" font-size="12.4" text-anchor="middle" font-weight="bold" textLength="72.8" lengthAdjust="spacingAndGlyphs">Commercial</text>
</svg>
</body></html>
